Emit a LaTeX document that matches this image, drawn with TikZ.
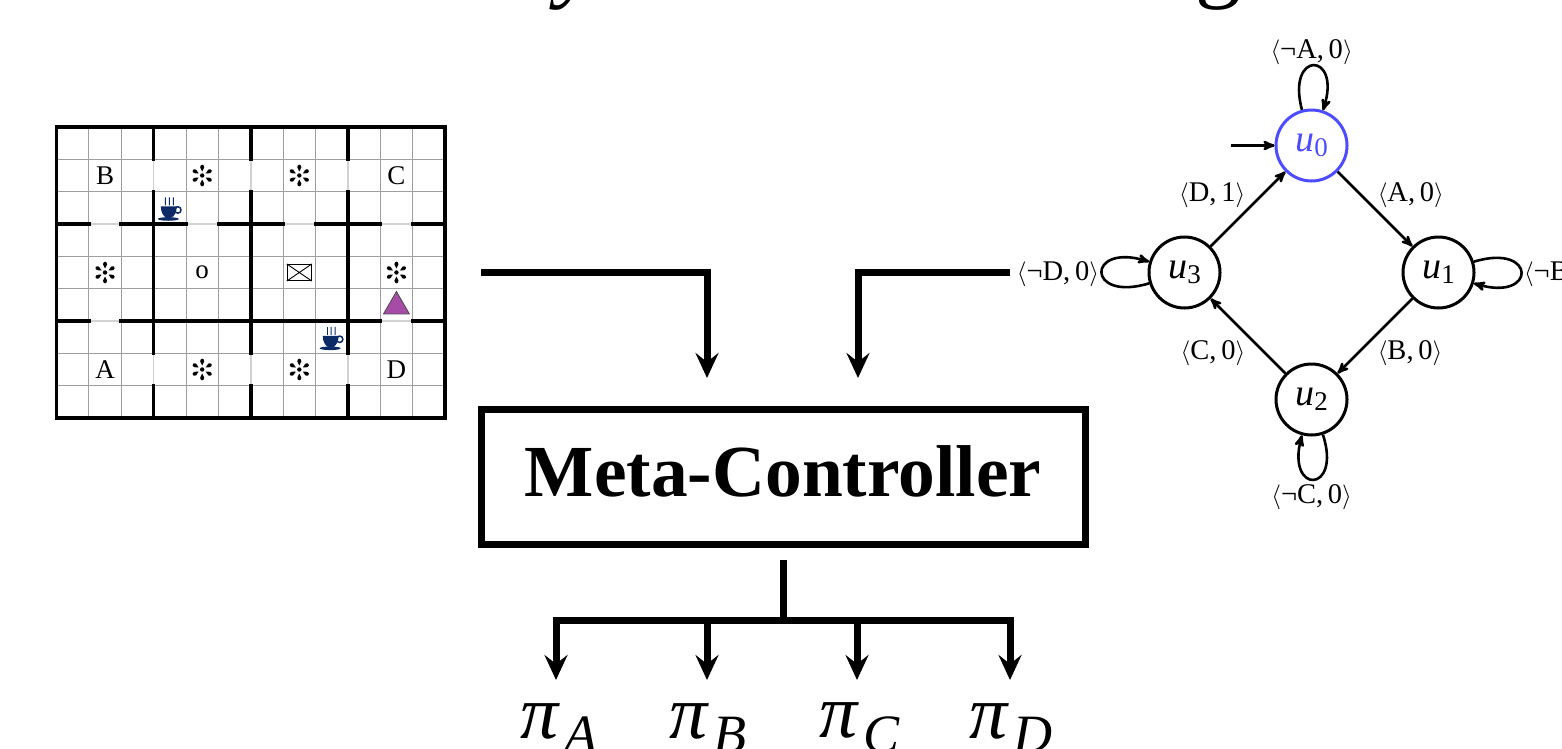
\documentclass[tikz,border=0pt]{standalone}
\usepackage{fontspec}
\setmainfont{Liberation Serif}
\usetikzlibrary{automata, positioning, arrows, arrows.meta, shapes.geometric}
\newcommand{\evlabel}[2]{$\langle$#1,\,#2$\rangle$}
\newcommand{\ustate}[1]{\textit{u}\raisebox{-0.3ex}{\fontsize{27}{27}\selectfont #1}}
\newcommand{\pisub}[1]{\textit{π}\raisebox{-0.42ex}{\kern4pt\fontsize{54}{54}\selectfont\textit{#1}}}
\definecolor{stateblue}{HTML}{4D4DFF}
\definecolor{cupblue}{HTML}{0B2A66}
\definecolor{agentpurple}{HTML}{A64CA6}
\tikzset{
  >=stealth',
  x=1pt, y=1pt,
  node distance=179.6pt,
  every state/.style={line width=3pt, minimum size=71pt, inner sep=0pt, font=\fontsize{38}{40}\selectfont},
  trans/.style={->, line width=2.6pt},
  evtext/.style={font=\fontsize{28.5}{30}\selectfont, inner sep=1.5pt, yshift=-2pt},
  flow/.style={-{Stealth[length=25pt, width=23pt, inset=9pt]}, line width=7pt},
  cell/.style={font=\fontsize{27}{30}\selectfont, inner sep=0pt},
  wall/.style={line width=3.6pt, line cap=rect},
  thingrid/.style={line width=1pt, color=gray!75},
  opening/.style={line width=1.6pt, color=gray!35},
  pilabel/.style={font=\fontsize{76}{76}\selectfont, inner sep=0pt, anchor=west},
  spark/.pic={
    \fill (0,0) circle[radius=2.2pt];
    \foreach \a in {30,90,...,330}
      \fill (\a:4pt) -- (\a+14:8.5pt) .. controls (\a+8:11.8pt) and (\a-8:11.8pt) .. (\a-14:8.5pt) -- cycle;
  },
  cup/.pic={
    \fill[cupblue] (-9pt,3pt) -- (7pt,3pt) .. controls (7pt,-3pt) and (4pt,-7pt) .. (2pt,-8pt) -- (-4pt,-8pt) .. controls (-6pt,-7pt) and (-9pt,-3pt) .. (-9pt,3pt);
    \fill[cupblue] (-1.5pt,-9.5pt) ellipse[x radius=10.5pt, y radius=1.8pt];
    \draw[cupblue, line width=1.5pt] (8pt,-0.5pt) circle[radius=3.2pt];
    \foreach \s in {-4.5,-0.5,3.5}
      \draw[cupblue, line width=0.9pt] (\s pt,4pt) .. controls (\s pt-1.5pt,7pt) and (\s pt+1.5pt,9pt) .. (\s pt,12pt);
  },
}

\begin{document}
\begin{tikzpicture}
		\clip (0,0) rectangle (1562,-748);
		\useasboundingbox (0,0) rectangle (1562,-748);

		% title remains
		\node[font=\fontsize{92}{92}\selectfont\itshape, inner sep=0pt, anchor=base] (titley) at (578,10) {y};
		\node[font=\fontsize{92}{92}\selectfont, inner sep=0pt, anchor=base] (titleg) at (1218,10) {g};

		% grid
		\begin{scope}[shift={(56.5,-127)}, x=32.375pt, y=-32.333pt]
			\foreach \i in {1,...,11} \draw[thingrid] (\i,0) -- (\i,9);
			\foreach \j in {1,...,8} \draw[thingrid] (0,\j) -- (12,\j);
			\foreach \i in {3,6,9} {
				\draw[opening] (\i,1) -- (\i,2);
				\draw[opening] (\i,7) -- (\i,8);
				\draw[wall] (\i,0) -- (\i,1);
				\draw[wall] (\i,2) -- (\i,7);
				\draw[wall] (\i,8) -- (\i,9);
			}
			\foreach \i in {1,10} {
				\draw[opening] (\i,3) -- (\i+1,3);
				\draw[opening] (\i,6) -- (\i+1,6);
			}
			\foreach \i in {4,7} \draw[opening] (\i,3) -- (\i+1,3);
			\foreach \a/\b in {0/1,2/4,5/7,8/10,11/12} \draw[wall] (\a,3) -- (\b,3);
			\foreach \a/\b in {0/1,2/10,11/12} \draw[wall] (\a,6) -- (\b,6);
			\draw[line width=3.6pt] (0,0) rectangle (12,9);

			% grid items
			\node[cell] (pb) at (1.5,1.5) {B};
			\node[cell] (pc) at (10.5,1.5) {C};
			\node[cell] (pa) at (1.5,7.5) {A};
			\node[cell] (pd) at (10.5,7.5) {D};
			\node[cell] (office) at (4.5,4.5) {o};
			\foreach \i/\j in {4.5/1.5,7.5/1.5,1.5/4.5,10.5/4.5,4.5/7.5,7.5/7.5}
				\pic at (\i,\j) {spark};
			\node[draw, line width=1.2pt, minimum width=24pt, minimum height=16pt, inner sep=0pt] (mail) at (7.5,4.5) {};
			\draw[line width=0.9pt] (mail.north west) -- (mail.center) -- (mail.north east)
			(mail.south west) -- (mail.center) -- (mail.south east);
			\pic at (3.5,2.55) {cup};
			\pic at (8.5,6.55) {cup};
			\node[regular polygon, regular polygon sides=3, draw=black!70, fill=agentpurple, inner sep=0pt, minimum size=30pt, line width=0.8pt] (agent) at (10.5,5.55) {};
		\end{scope}

		% states
		\node[state, draw=stateblue, text=stateblue] (u0) at (1311.5,-145.5) {\ustate{0}};
		\node[state, below right of=u0] (u1) {\ustate{1}};
		\node[state, below left of=u0] (u3) {\ustate{3}};
		\node[state, below right of=u3] (u2) {\ustate{2}};
		\coordinate[left=44pt of u0] (start);

		% transitions
		\draw[trans] (start) -- (u0);
		\draw[trans] (u0) edge node[evtext, above right]{\evlabel{A}{0}} (u1)
		(u1) edge node[evtext, below right]{\evlabel{B}{0}} (u2)
		(u2) edge node[evtext, below left]{\evlabel{C}{0}} (u3)
		(u3) edge node[evtext, above left]{\evlabel{D}{1}} (u0)
		(u0) edge[loop, out=105, in=72, distance=62pt] node[evtext, above, xshift=-2pt]{\evlabel{¬A}{0}} (u0)
		(u1) edge[loop, out=17, in=-17, distance=66pt] node[evtext, right]{\evlabel{¬B}{0}} (u1)
		(u2) edge[loop, out=-72, in=-105, distance=62pt] node[evtext, below, xshift=-2pt]{\evlabel{¬C}{0}} (u2)
		(u3) edge[loop, out=197, in=163, distance=66pt] node[evtext, left]{\evlabel{¬D}{0}} (u3);

		% meta controller
		\node[draw, line width=7pt, minimum width=604pt, minimum height=135pt, inner sep=0pt, text depth=11pt, font=\fontsize{73.4}{74}\selectfont\bfseries] (meta) at (783,-476.5) {Meta-Controller};

		\coordinate (gridout) at (481,-272);
		\coordinate (gridin) at (707,-378);
		\coordinate (autout) at (1010,-272);
		\coordinate (autin) at (858,-378);
		\draw[flow] (gridout) -| (gridin);
		\draw[flow] (autout) -| (autin);

		% policies
		\node[pilabel] (pia) at (520,-728) {\pisub{A}};
		\node[pilabel] (pib) at (669,-728) {\pisub{B}};
		\node[pilabel] (pic) at (819,-728) {\pisub{C}};
		\node[pilabel] (pid) at (969,-728) {\pisub{D}};
		\coordinate (metaout) at (783,-560);
		\coordinate (split) at (783,-620);
		\coordinate (toa) at (556,-680);
		\coordinate (tob) at (707,-680);
		\coordinate (toc) at (857,-680);
		\coordinate (tod) at (1010,-680);
		\draw[line width=7pt] (metaout) -- (split);
		\draw[flow] (split) -| (toa);
		\draw[flow] (split) -| (tob);
		\draw[flow] (split) -| (toc);
		\draw[flow] (split) -| (tod);

	\end{tikzpicture}
\end{document}
